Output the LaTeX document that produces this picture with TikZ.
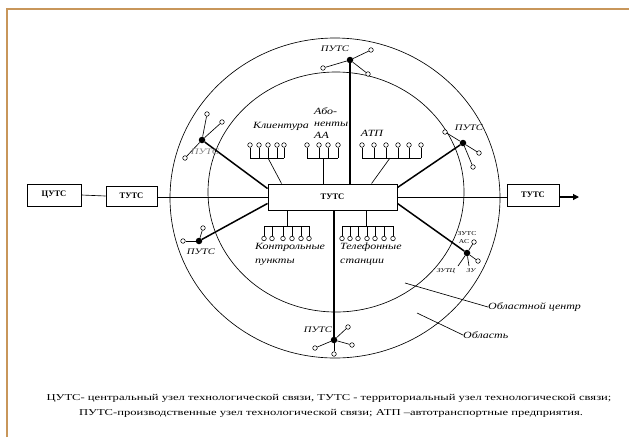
\documentclass[tikz,border=0pt]{standalone}
\usepackage{fontspec}
\setmainfont{Liberation Serif}
\newfontfamily\capfont[FakeStretch=1.4]{Liberation Serif}
\newfontfamily\lblfont[FakeStretch=1.26]{Liberation Serif}
\usetikzlibrary{arrows.meta,calc}
\definecolor{framecol}{RGB}{200,150,90}
\begin{document}
\begin{tikzpicture}[x=1pt,y=-1pt,
  box/.style={draw,line width=0.9pt,inner sep=0pt,fill=white,font=\fontsize{8.5}{9}\selectfont\bfseries},
  term/.style={circle,draw,line width=0.55pt,fill=white,inner sep=0pt,minimum size=4.6pt},
  hub/.style={circle,fill=black,inner sep=0pt,minimum size=6.5pt},
  spoke/.style={line width=1.5pt},
  thin/.style={line width=0.65pt},
  lbl/.style={font=\lblfont\fontsize{9.5}{13}\selectfont\itshape,inner sep=0pt,align=left},
  plbl/.style={font=\lblfont\fontsize{8.5}{9}\selectfont\itshape,inner sep=0pt},
  zlbl/.style={font=\lblfont\fontsize{6}{6}\selectfont,inner sep=0pt},
  captext/.style={font=\capfont\fontsize{9}{10}\selectfont,inner sep=0pt},
]
\useasboundingbox (0,0) rectangle (629,437);
\fill[white] (0,0) rectangle (629,437);
% frame
\draw[framecol,line width=2pt] (7,437) -- (7,9) -- (629,9);
% regions
\draw[thin] (335,198) ellipse [x radius=165, y radius=160];
\draw[thin] (336,192) ellipse [x radius=128, y radius=120];

% boxes
\node[box,minimum width=54pt,minimum height=22pt] (cu) at (54,195) {ЦУТС};
\node[box,minimum width=51pt,minimum height=20pt] (tl) at (131.5,196) {ТУТС};
\node[box,minimum width=129pt,minimum height=26pt] (main) at (332.5,197) {ТУТС};
\node[box,minimum width=52pt,minimum height=22pt] (tr) at (533,195) {ТУТС};
\coordinate (arrend) at (579,197);

\draw[thin] (cu.east) -- (tl.west);
\draw[thin] (tl.east |- main.west) -- (main.west);
\draw[thin] (main.east) -- (main.east -| tr.west);
\draw[line width=1.1pt,-{Triangle[length=6pt,width=6pt]}] (tr.east |- arrend) -- (arrend);

% hubs
\node[hub] (ht) at (350,60) {};
\node[hub] (hb) at (334,340) {};
\node[hub] (hul) at (202,140) {};
\node[hub] (hll) at (199,241) {};
\node[hub] (hur) at (463,143) {};
\node[hub] (hlr) at (467,253) {};

\draw[spoke] (ht) -- (ht |- main.north);
\draw[spoke] (hb) -- (hb |- main.south);
\draw[spoke] (hul) -- ($(main.north west)+(0,5)$);
\draw[spoke] (hll) -- ($(main.south west)+(0,-7)$);
\draw[spoke] (hur) -- ($(main.north east)+(0,4)$);
\draw[spoke] (hlr) -- ($(main.south east)+(0,-7)$);

% top hub leaves
\node[term] (t1) at (323,68) {};
\node[term] (t2) at (371,50) {};
\node[term] (t3) at (368,74) {};
\foreach \n in {t1,t2,t3} \draw[thin] (ht) -- (\n);
\node[plbl] (lt) at (335,49) {ПУТС};

% bottom hub leaves
\node[term] (b1) at (315,348) {};
\node[term] (b2) at (348,327) {};
\node[term] (b3) at (352,345) {};
\node[term] (b4) at (334,354) {};
\foreach \n in {b1,b2,b3,b4} \draw[thin] (hb) -- (\n);
\node[plbl] (lb) at (318,330) {ПУТС};

% upper-left hub leaves
\node[term] (u1) at (207,114) {};
\node[term] (u2) at (222,122) {};
\node[term] (u3) at (185,158) {};
\foreach \n in {u1,u2,u3} \draw[thin] (hul) -- (\n);
\node[plbl,text=gray] (lul) at (205,152) {ПУТС};

% lower-left hub leaves
\node[term] (l1) at (183,241) {};
\node[term] (l2) at (203,228) {};
\foreach \n in {l1,l2} \draw[thin] (hll) -- (\n);
\node[plbl] (lll) at (201,252) {ПУТС};

% upper-right hub leaves
\node[term] (r1) at (445,132) {};
\node[term] (r2) at (479,153) {};
\node[term] (r3) at (473,167) {};
\foreach \n in {r1,r2,r3} \draw[thin] (hur) -- (\n);
\node[plbl] (lur) at (469,128) {ПУТС};

% lower-right hub leaves
\node[term] (s1) at (474,242) {};
\node[term] (s2) at (478,261) {};
\coordinate (s3) at (458,266);
\coordinate (s4) at (469,266);
\foreach \n in {s1,s2,s3,s4} \draw[thin] (hlr) -- (\n);
\node[zlbl] (lz1) at (467,234) {ЗУТС};
\node[zlbl] (lz2) at (464,242) {АС};
\node[zlbl,font=\lblfont\fontsize{6}{6}\selectfont\itshape] (lz3) at (446,271) {ЗУТЦ};
\node[zlbl,font=\lblfont\fontsize{6}{6}\selectfont\itshape] (lz4) at (471,271) {ЗУ};

% group: Клиентура
\coordinate (kbL) at (250,158);
\coordinate (kbR) at (284,158);
\draw[thin] (kbL) -- (kbR);
\foreach \x [count=\i] in {250,259,268,277,284} {
  \node[term] (k\i) at (\x,145) {};
  \draw[thin] (k\i.south) -- (k\i |- kbL);
}
\coordinate (kc) at (268,158);
\draw[thin] (kc) -- ($(main.north west)+(14,0)$);
\node[lbl] (lk) at (281,126) {Клиентура};

% group: Абоненты АА
\coordinate (abL) at (307,158);
\coordinate (abR) at (338,158);
\draw[thin] (abL) -- (abR);
\foreach \x [count=\i] in {307,319,328,338} {
  \node[term] (a\i) at (\x,145) {};
  \draw[thin] (a\i.south) -- (a\i |- abL);
}
\coordinate (ac) at (323,158);
\draw[thin] (ac) -- (ac |- main.north);
\node[lbl,anchor=north west,font=\lblfont\fontsize{9.5}{12}\selectfont\itshape] (la) at (314,107) {Або-\\ненты\\АА};

% group: АТП
\coordinate (tbL) at (362,158);
\coordinate (tbR) at (421,158);
\draw[thin] (tbL) -- (tbR);
\foreach \x [count=\i] in {362,374,386,398,409,421} {
  \node[term] (p\i) at (\x,145) {};
  \draw[thin] (p\i.south) -- (p\i |- tbL);
}
\coordinate (tc) at (390,158);
\draw[thin] (tc) -- ($(main.north west)+(104,0)$);
\node[lbl] (lp) at (372,133) {АТП};

% group: Контрольные пункты
\coordinate (cbL) at (264,226);
\coordinate (cbR) at (309,226);
\draw[thin] (cbL) -- (cbR);
\foreach \x [count=\i] in {264,272,283,292,301,309} {
  \node[term] (c\i) at (\x,238.5) {};
  \draw[thin] (c\i.north) -- (c\i |- cbL);
}
\coordinate (cc) at (287,226);
\draw[thin] (main.south -| cc) -- (cc);
\node[lbl,anchor=north west,font=\lblfont\fontsize{9.5}{14}\selectfont\itshape] (lc) at (255,243) {Контрольные\\пункты};

% group: Телефонные станции
\coordinate (sbL) at (342,226);
\coordinate (sbR) at (393,226);
\draw[thin] (sbL) -- (sbR);
\foreach \x [count=\i] in {342,350,358,367,375,384,393} {
  \node[term] (q\i) at (\x,238.5) {};
  \draw[thin] (q\i.north) -- (q\i |- sbL);
}
\coordinate (qc) at (366,226);
\draw[thin] (main.south -| qc) -- (qc);
\node[lbl,anchor=north west,font=\lblfont\fontsize{9.5}{14}\selectfont\itshape] (lq) at (340,243) {Телефонные\\станции};

% region labels
\coordinate (oc1) at (405,283);
\node[lbl,anchor=west] (loc) at (488,307) {Областной центр};
\draw[thin] (oc1) -- (loc.west);
\coordinate (ob1) at (417,313);
\node[lbl,anchor=west] (lob) at (463,335) {Область};
\draw[thin] (ob1) -- (lob.west);

% caption
\node[captext] (cap1) at (329,398) {ЦУТС- центральный узел технологической связи, ТУТС - территориальный узел технологической связи;};
\node[captext] (cap2) at (331,413) {ПУТС-производственные узел технологической связи; АТП –автотранспортные предприятия.};
\end{tikzpicture}
\end{document}
